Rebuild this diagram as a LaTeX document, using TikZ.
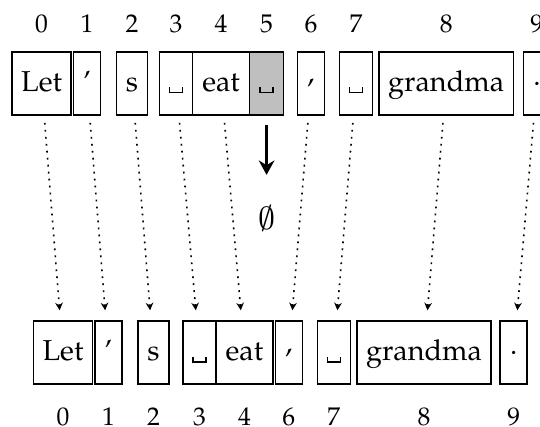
\documentclass[tikz,border=0pt]{standalone}
\usepackage[T1]{fontenc}
\usepackage{mathpazo}
\usepackage{tikz}
\usetikzlibrary{positioning,arrows.meta}
\newcommand{\spacemark}{\raisebox{0.9pt}{\textvisiblespace}}
\tikzstyle{cell} = [rectangle, draw=black, inner sep=0pt, outer sep=0pt, minimum height=15.75pt, font=\fontsize{7.2}{8.6}\selectfont]
\tikzstyle{tok} = [cell, text height=5pt, text depth=1.15pt]
\tikzstyle{punc} = [cell, minimum width=6.75pt]
\tikzstyle{gone} = [fill=black!25]
\tikzstyle{idx} = [inner sep=0pt, text height=4.3pt, text depth=0pt, font=\fontsize{6.4}{7.6}\selectfont]
\tikzstyle{link} = [dash pattern=on 0.45pt off 1.3pt, -{Stealth[length=1.9pt,width=1.9pt]}, shorten <=2pt, shorten >=2.75pt]
\tikzstyle{drop} = [line width=0.9pt, -{Stealth[length=3.6pt,width=3.9pt]}, shorten <=2.5pt, shorten >=7.5pt]
\begin{document}
\begin{tikzpicture}[x=0.25pt, y=0.25pt]
          \useasboundingbox (0,0) rectangle (540,-427);
          % sentence before
          \node (t0) [tok, minimum width=14.8pt] at (41.6,-83.4) {Let};
          \node (t1) [tok, minimum width=6.75pt, right=0.6pt of t0] {'};
          \node (t2) [tok, minimum width=7.75pt, right=4pt of t1] {s};
          \node (t3) [tok, minimum width=8.25pt, right=3pt of t2] {\spacemark};
          \node (t4) [tok, minimum width=14.25pt, right=0pt of t3] {eat};
          \node (t5) [tok, gone, minimum width=8.5pt, right=0pt of t4] {\spacemark};
          \node (t6) [punc, right=3.5pt of t5] {,};
          \node (t7) [tok, minimum width=8.25pt, right=3.75pt of t6] {\spacemark};
          \node (t8) [tok, minimum width=33.6pt, right=1.6pt of t7] {grandma};
          \node (t9) [punc, right=2.5pt of t8] {.};
          \node (it0) [idx, above=4.6pt of t0] {0};
          \node (it1) [idx, above=4.6pt of t1] {1};
          \node (it2) [idx, above=4.6pt of t2] {2};
          \node (it3) [idx, above=4.6pt of t3] {3};
          \node (it4) [idx, above=4.6pt of t4] {4};
          \node (it5) [idx, above=4.6pt of t5] {5};
          \node (it6) [idx, above=4.6pt of t6] {6};
          \node (it7) [idx, above=4.6pt of t7] {7};
          \node (it8) [idx, above=4.6pt of t8] {8};
          \node (it9) [idx, above=4.6pt of t9] {9};
          % sentence after
          \node (b0) [tok, minimum width=14.8pt] at (63,-352.8) {Let};
          \node (b1) [tok, minimum width=6.75pt, right=0.6pt of b0] {'};
          \node (b2) [tok, minimum width=7.75pt, right=4pt of b1] {s};
          \node (b3) [tok, minimum width=8.25pt, right=3.5pt of b2] {\spacemark};
          \node (b4) [tok, minimum width=14.25pt, right=0pt of b3] {eat};
          \node (b6) [punc, right=0.6pt of b4] {,};
          \node (b7) [tok, minimum width=8.25pt, right=3.75pt of b6] {\spacemark};
          \node (b8) [tok, minimum width=33.6pt, right=1.6pt of b7] {grandma};
          \node (b9) [punc, right=2.25pt of b8] {.};
          \node (ib0) [idx, below=5.8pt of b0] {0};
          \node (ib1) [idx, below=5.8pt of b1] {1};
          \node (ib2) [idx, below=5.8pt of b2] {2};
          \node (ib3) [idx, below=5.8pt of b3] {3};
          \node (ib4) [idx, below=5.8pt of b4] {4};
          \node (ib6) [idx, below=5.8pt of b6] {6};
          \node (ib7) [idx, below=5.8pt of b7] {7};
          \node (ib8) [idx, below=5.8pt of b8] {8};
          \node (ib9) [idx, below=5.8pt of b9] {9};
          % the removed space
          \node (del) [below=22.5pt of t5, inner sep=0pt, font=\fontsize{8}{9.6}\selectfont] {\usefont{OMS}{cmsy}{m}{n}\symbol{59}};
          \draw [drop] (t5) -- (del);
          \draw [link] (t0) -- (b0);
          \draw [link] (t1) -- (b1);
          \draw [link] (t2) -- (b2);
          \draw [link] (t3) -- (b3);
          \draw [link] (t4) -- (b4);
          \draw [link] (t6) -- (b6);
          \draw [link] (t7) -- (b7);
          \draw [link] (t8) -- (b8);
          \draw [link] (t9) -- (b9);
        \end{tikzpicture}
\end{document}
